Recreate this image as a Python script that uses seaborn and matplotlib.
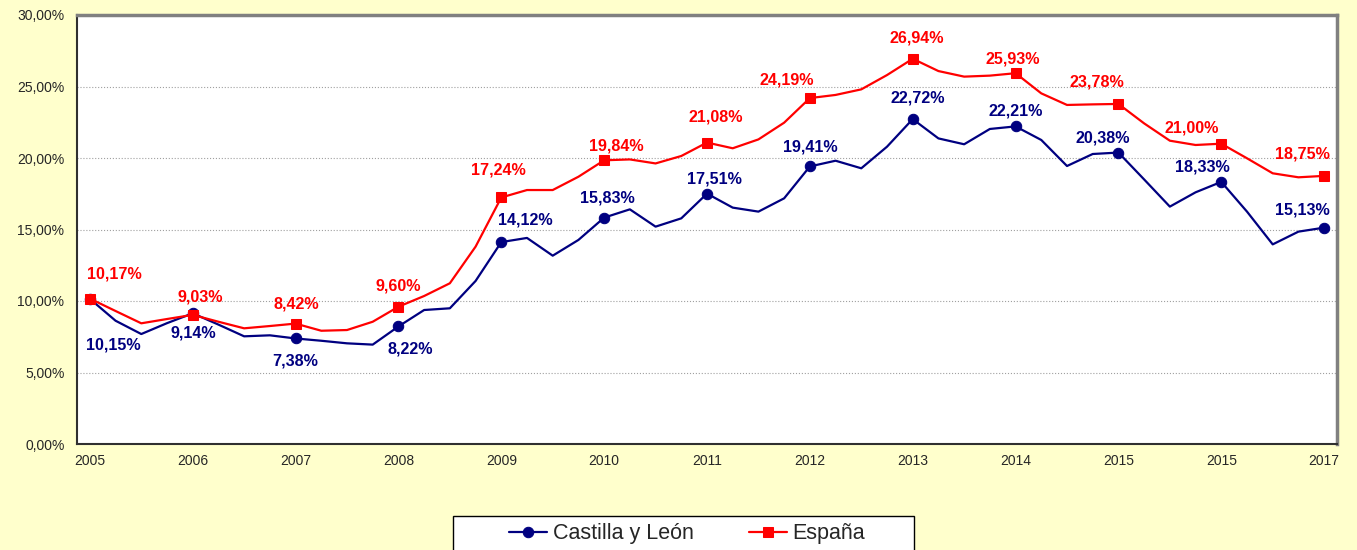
import numpy as np
import pandas as pd
import seaborn as sns
from matplotlib import pyplot as plt
from matplotlib.patches import Rectangle
from matplotlib.ticker import FixedLocator, FuncFormatter

# quarterly unemployment rate (%), 2005 Q1 .. 2017 Q1
castilla_leon = [10.15, 8.62, 7.69, 8.45, 9.14, 8.35, 7.53, 7.60, 7.38, 7.22, 7.04, 6.95,
                 8.22, 9.37, 9.49, 11.40, 14.12, 14.41, 13.17, 14.27, 15.83, 16.41, 15.20, 15.78,
                 17.51, 16.53, 16.25, 17.18, 19.41, 19.81, 19.28, 20.79, 22.72, 21.37, 20.96, 22.03,
                 22.21, 21.26, 19.44, 20.28, 20.38, 18.50, 16.60, 17.60, 18.33, 16.25, 13.96, 14.85,
                 15.13]
espana = [10.17, 9.30, 8.44, 8.74, 9.03, 8.55, 8.09, 8.25, 8.42, 7.92, 7.97, 8.55,
          9.60, 10.35, 11.24, 13.80, 17.24, 17.76, 17.76, 18.69, 19.84, 19.90, 19.62, 20.14,
          21.08, 20.68, 21.30, 22.47, 24.19, 24.41, 24.80, 25.80, 26.94, 26.08, 25.69, 25.76,
          25.93, 24.52, 23.71, 23.75, 23.78, 22.42, 21.21, 20.91, 21.00, 19.98, 18.93, 18.65,
          18.75]
year_labels = ["2005", "2006", "2007", "2008", "2009", "2010", "2011", "2012",
               "2013", "2014", "2015", "2015", "2017"]

trimestre = np.arange(len(espana))
df = pd.DataFrame({"t": trimestre, "Castilla y León": castilla_leon, "España": espana})

# label offsets in pixels (dx, dy) from each first-quarter marker
off_es = [(25, 25), (8, 18), (1, 20), (0, 21), (-3, 27), (12, 14), (9, 26),
          (-23, 18), (4, 21), (-3, 14), (-22, 22), (-30, 16), (-22, 22)]
off_cl = [(23, -46), (1, -20), (0, -23), (12, -23), (24, 22), (3, 20), (7, 15),
          (0, 19), (5, 21), (0, 15), (-16, 15), (-19, 15), (-22, 18)]

BLUE = "#000080"
RED = "#FF0000"

sns.set_style("white")
plt.rcParams["font.family"] = ["Liberation Sans", "DejaVu Sans"]

fig = plt.figure(figsize=(13.57, 5.5), dpi=100, facecolor="#FFFFCC")
ax = fig.add_axes([77 / 1357, 1 - 444 / 550, 1260 / 1357, 429 / 550])
ax.set_facecolor("white")

sns.lineplot(data=df, x="t", y="Castilla y León", ax=ax, color=BLUE, linewidth=1.6,
             marker="o", markersize=7.5, markevery=4, markeredgecolor=BLUE,
             label="Castilla y León")
sns.lineplot(data=df, x="t", y="España", ax=ax, color=RED, linewidth=1.6,
             marker="s", markersize=7.5, markevery=4, markeredgecolor=RED,
             label="España")

fmt = lambda v: f"{v:.2f}%".replace(".", ",")
for k, i in enumerate(range(0, len(espana), 4)):
    ax.annotate(fmt(espana[i]), (i, espana[i]), xytext=off_es[k], textcoords="offset pixels",
                ha="center", va="center", color=RED, fontsize=11.6, fontweight="bold")
    ax.annotate(fmt(castilla_leon[i]), (i, castilla_leon[i]), xytext=off_cl[k],
                textcoords="offset pixels", ha="center", va="center", color=BLUE,
                fontsize=11.6, fontweight="bold")

ax.set_xlim(-0.5, len(espana) - 0.5)
ax.set_ylim(0, 30)
ax.xaxis.set_major_locator(FixedLocator(np.arange(-0.5, len(espana), 4)))
ax.xaxis.set_major_formatter(FuncFormatter(lambda v, p: ""))
ax.xaxis.set_minor_locator(FixedLocator(np.arange(0, len(espana), 4)))
ax.set_xticklabels(year_labels, minor=True)
ax.tick_params(axis="x", which="major", length=5, width=1, color="#404040", direction="out")
ax.tick_params(axis="x", which="minor", length=0, labelsize=10, pad=7)
ax.set_yticks(np.arange(0, 31, 5))
ax.yaxis.set_major_formatter(FuncFormatter(lambda v, p: f"{v:.2f}%".replace(".", ",")))
ax.tick_params(axis="y", length=5, width=1, color="#404040", direction="out", labelsize=10, pad=4)
ax.grid(axis="y", color="#A0A0A0", linestyle=":", linewidth=0.8)
ax.set_xlabel("")
ax.set_ylabel("")

for side in ["left", "bottom"]:
    ax.spines[side].set_color("#303030")
    ax.spines[side].set_linewidth(1.5)
for side in ["top", "right"]:
    ax.spines[side].set_color("#808080")
    ax.spines[side].set_linewidth(2.5)

# legend frame drawn separately (it runs off the bottom of the image)
fig.patches.append(Rectangle((453 / 1357, -0.05), 461 / 1357, 0.05 + 34 / 550,
                             transform=fig.transFigure, facecolor="white",
                             edgecolor="black", linewidth=1))

handles, labels = ax.get_legend_handles_labels()
ax.get_legend().remove()
leg = fig.legend(handles, labels, loc="center", bbox_to_anchor=(687 / 1357, 1 - 534 / 550),
                 ncol=2, frameon=False, fontsize=15.5, borderpad=0.0,
                 handlelength=1.8, columnspacing=2.55, handletextpad=0.25)

fig.savefig("out.png", dpi=100, facecolor=fig.get_facecolor())
